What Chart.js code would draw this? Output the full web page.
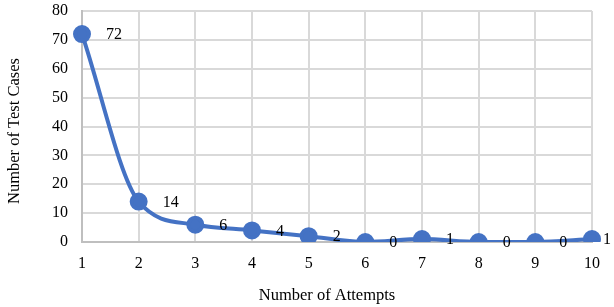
<!DOCTYPE html>
<html>
<head>
<meta charset="utf-8">
<script src="https://cdn.jsdelivr.net/npm/chart.js@4"></script>
<style>
	html, body { margin: 0; padding: 0; background: #fff; }
	#wrap { width: 614px; height: 307px; }
</style>
</head>
<body>
<div id="wrap"><canvas id="miGrafico"></canvas></div>
<script>
const attempts = ["1", "2", "3", "4", "5", "6", "7", "8", "9", "10"];
const testCases = [72, 14, 6, 4, 2, 0, 1, 0, 0, 1];
const yTicks = [0, 10, 20, 30, 40, 50, 60, 70, 80];

const FONT = "'Liberation Serif', 'Times New Roman', serif";

// etiquetas de valor a la derecha de cada punto + títulos de ejes
const valueLabels = {
	id: "valueLabels",
	afterDatasetsDraw(chart) {
		const ctx = chart.ctx;
		const meta = chart.getDatasetMeta(0);
		ctx.save();
		ctx.font = "16px " + FONT;
		ctx.fillStyle = "#000";
		ctx.textAlign = "left";
		ctx.textBaseline = "middle";
		meta.data.forEach((pt, i) => {
			const txt = String(testCases[i]);
			const w = ctx.measureText(txt).width;
			let x = pt.x + 24;
			if (x + w > chart.width - 3) x = chart.width - 3 - w;
			ctx.fillText(txt, x, pt.y + 1);
		});

		// títulos
		ctx.font = "16.5px " + FONT;
		ctx.textAlign = "center";
		ctx.fillText("Number of Attempts", 327, 296);
		ctx.translate(15, 131);
		ctx.rotate(-Math.PI / 2);
		ctx.fillText("Number of Test Cases", 0, 0);
		ctx.restore();
	},
};

function initGrafico() {
	const ctx = document.getElementById("miGrafico");

	new Chart(ctx, {
		type: "line",
		data: {
			labels: attempts,
			datasets: [
				{
					data: testCases,
					borderColor: "#4472C4",
					backgroundColor: "#4472C4",
					borderWidth: 4,
					pointRadius: 7,
					pointHoverRadius: 7,
					cubicInterpolationMode: "monotone",
				},
			],
		},
		options: {
			responsive: true,
			maintainAspectRatio: false,
			animation: false,
			layout: { padding: { top: 9, right: 22, left: 0, bottom: 0 } },
			plugins: {
				legend: { display: false },
				tooltip: { enabled: false },
			},
			scales: {
				x: {
					offset: false,
					grid: { color: "#d9d9d9", lineWidth: 2, drawTicks: false },
					border: { color: "#bfbfbf", width: 2 },
					ticks: { color: "#000", font: { family: FONT, size: 16 }, padding: 12, maxRotation: 0 },
					afterFit: (s) => { s.height = 65; s.paddingLeft = 0; s.paddingRight = 0; },
				},
				y: {
					min: 0,
					max: 80,
					afterBuildTicks: (s) => { s.ticks = yTicks.map((v) => ({ value: v })); },
					grid: { color: "#d9d9d9", lineWidth: 2, drawTicks: false },
					border: { color: "#bfbfbf", width: 2 },
					ticks: { color: "#000", font: { family: FONT, size: 16 }, padding: 14 },
					afterFit: (s) => { s.width = 82; s.paddingTop = 0; s.paddingBottom = 0; },
				},
			},
		},
		plugins: [valueLabels],
	});
}

initGrafico();
</script>
</body>
</html>
